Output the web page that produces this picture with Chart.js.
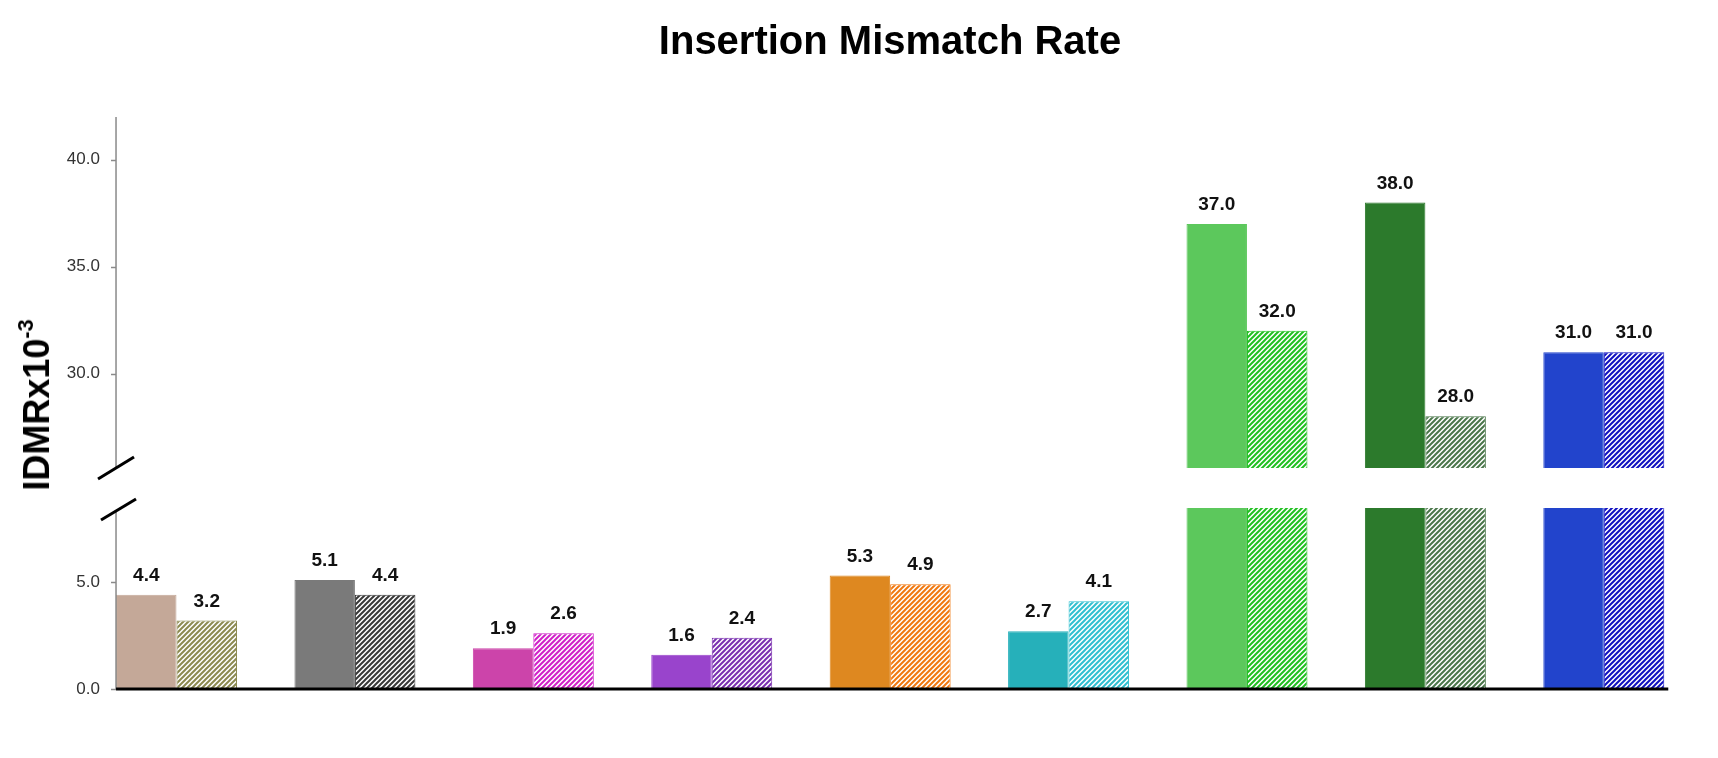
<!DOCTYPE html>
<html>
<head>
<meta charset="utf-8">
<script src="https://cdn.jsdelivr.net/npm/chart.js@4.4.0/dist/chart.umd.min.js"></script>
<style>
  body { margin: 0; background: #fff; }
  #wrap { position: relative; width: 1718px; height: 758px; overflow: hidden; }
  canvas { position: absolute; left: 0; }
  #upper { top: 0; }
  #lower { top: 490px; }
  #title {
    position: absolute; left: 490px; top: 20px; width: 800px; text-align: center;
    font: bold 40px "Liberation Sans", Arial, sans-serif; line-height: 40px; color: #000;
  }
  #ylabel {
    position: absolute; left: 37px; top: 405px; white-space: nowrap;
    transform: translate(-50%, -50%) rotate(-90deg);
    font: bold 36px "Liberation Sans", Arial, sans-serif; line-height: 36px; color: #000;
  }
  #ylabel sup { font-size: 60%; vertical-align: 0.75em; line-height: 0; }
</style>
</head>
<body>
<div id="wrap">
  <canvas id="upper" width="1718" height="500"></canvas>
  <canvas id="lower" width="1718" height="240"></canvas>
  <div id="title">Insertion Mismatch Rate</div>
  <div id="ylabel">IDMRx10<sup>-3</sup></div>
</div>
<script>
// data
var groups = ["1", "2", "3", "4", "5", "6", "7", "8", "9"];
var solidValues = [4.4, 5.1, 1.9, 1.6, 5.3, 2.7, 37.0, 38.0, 31.0];
var hatchValues = [3.2, 4.4, 2.6, 2.4, 4.9, 4.1, 32.0, 28.0, 31.0];
var upperTicks = [30, 35, 40];
var lowerTicks = [0, 5];

var solidColors = ["#c4a898", "#7a7a7a", "#cc44aa", "#9944cc", "#de8820", "#26b0ba", "#5cc85c", "#2c7a2c", "#2244cc"];
var hatchColors = ["#8c8a50", "#383838", "#d020c8", "#7a30b0", "#f07810", "#30c0d0", "#20c020", "#4a764a", "#1010c0"];

function hatch(color) {
    var c = document.createElement("canvas");
    c.width = 5; c.height = 5;
    var x = c.getContext("2d");
    x.fillStyle = "#fff";
    x.fillRect(0, 0, 5, 5);
    x.strokeStyle = color;
    x.lineWidth = 2;
    x.beginPath();
    x.moveTo(0, 5); x.lineTo(5, 0);
    x.moveTo(-1, 1); x.lineTo(1, -1);
    x.moveTo(4, 6); x.lineTo(6, 4);
    x.stroke();
    return x.createPattern(c, "repeat");
}

// axis line, ticks, value labels, break marks
var decor = {
    id: "decor",
    afterDraw: function(chart, args, opts) {
        var ctx = chart.ctx;
        var area = chart.chartArea;
        var y = chart.scales.y;
        var first = chart.getDatasetMeta(0).data[0];
        var axisX = first.x - first.width / 2;
        ctx.save();

        // y axis line + tick marks
        ctx.strokeStyle = "#8a8a8a";
        ctx.lineWidth = 1.5;
        ctx.beginPath();
        ctx.moveTo(axisX, opts.part == "upper" ? area.top : area.top + 4);
        ctx.lineTo(axisX, area.bottom);
        opts.ticks.forEach(function(v) {
            var py = Math.round(y.getPixelForValue(v)) + 0.5;
            ctx.moveTo(axisX - 5, py);
            ctx.lineTo(axisX, py);
        });
        ctx.stroke();

        // value labels
        ctx.fillStyle = "#111";
        ctx.font = "bold 19px 'Liberation Sans Narrow', 'Liberation Sans', Arial, sans-serif";
        ctx.textAlign = "center";
        ctx.textBaseline = "alphabetic";
        chart.data.datasets.forEach(function(ds, di) {
            var meta = chart.getDatasetMeta(di);
            ds.data.forEach(function(v, i) {
                if (v < y.min || v > y.max) return;
                var bar = meta.data[i];
                ctx.fillText(v.toFixed(1), bar.x, y.getPixelForValue(v) - 14);
            });
        });

        // zero line
        if (opts.part == "lower") {
            var metaB = chart.getDatasetMeta(1);
            var last = metaB.data[metaB.data.length - 1];
            var y0 = y.getPixelForValue(0);
            ctx.strokeStyle = "#000";
            ctx.lineWidth = 3;
            ctx.beginPath();
            ctx.moveTo(axisX, y0);
            ctx.lineTo(last.x + last.width / 2 + 4, y0);
            ctx.stroke();
        }

        // break marks
        ctx.strokeStyle = "#000";
        ctx.lineWidth = 3;
        ctx.beginPath();
        if (opts.part == "upper") {
            ctx.moveTo(axisX - 18, area.bottom + 11);
            ctx.lineTo(axisX + 18, area.bottom - 11);
        } else {
            ctx.moveTo(axisX - 15, area.top + 12);
            ctx.lineTo(axisX + 20, area.top - 9);
        }
        ctx.stroke();
        ctx.restore();
    }
};

function makeChart(id, part, yMin, yMax, tickValues, tickPad, padTop, padBottom) {
    var data = {
        labels: groups,
        datasets: [
            {
                label: "solid",
                data: solidValues,
                backgroundColor: solidColors,
                borderColor: solidColors,
                borderWidth: 1,
                clip: 0,
                categoryPercentage: 0.678,
                barPercentage: 1
            },
            {
                label: "hatched",
                data: hatchValues,
                backgroundColor: hatchColors.map(hatch),
                borderColor: hatchColors,
                borderWidth: 1,
                clip: 0,
                categoryPercentage: 0.678,
                barPercentage: 1
            }
        ]
    };

    var options = {
        responsive: false,
        animation: false,
        layout: {
            padding: { left: 27.3, right: 25, top: padTop, bottom: padBottom }
        },
        plugins: {
            legend: { display: false },
            tooltip: { enabled: false },
            decor: { part: part, ticks: tickValues }
        },
        scales: {
            x: { display: false, offset: true },
            y: {
                min: yMin,
                max: yMax,
                beginAtZero: false,
                border: { display: false },
                grid: { display: false, drawTicks: false },
                afterFit: function(s) { s.width = 60; },
                afterBuildTicks: function(s) {
                    s.ticks = tickValues.map(function(v) { return { value: v }; });
                },
                ticks: {
                    mirror: true,
                    crossAlign: "near",
                    padding: tickPad,
                    color: "#333",
                    font: { family: "'Liberation Sans', Arial, sans-serif", size: 17 },
                    callback: function(v) { return Number(v).toFixed(1); }
                }
            }
        }
    };

    return new Chart(document.getElementById(id), {
        type: "bar",
        data: data,
        options: options,
        plugins: [decor]
    });
}

makeChart("upper", "upper", 25.58, 42.0, upperTicks, -20.5, 117, 32);
makeChart("lower", "lower", 0, 8.46, lowerTicks, -11, 18, 41);
</script>
</body>
</html>
